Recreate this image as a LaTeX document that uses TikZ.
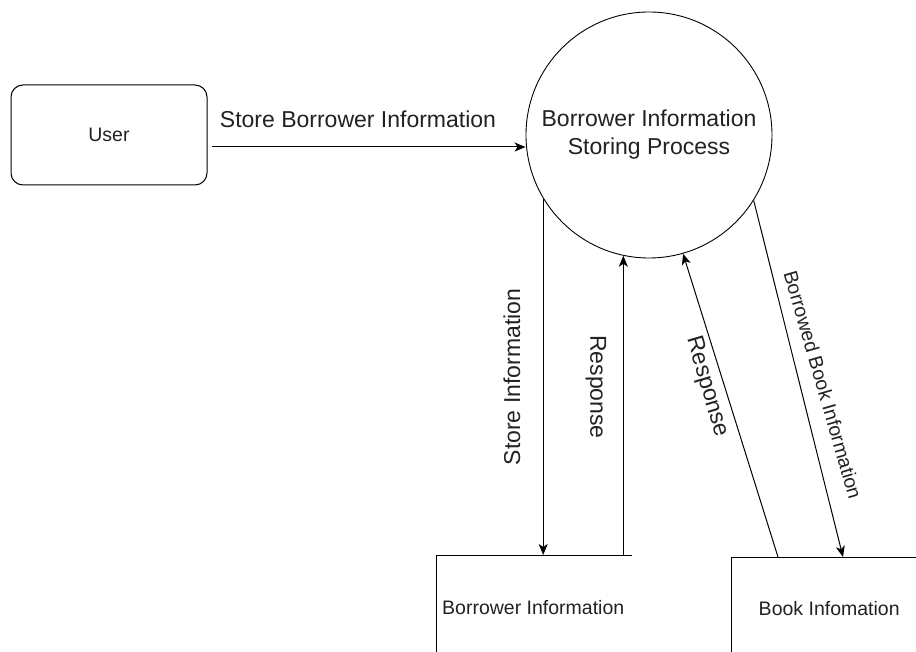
\documentclass[tikz,border=0pt]{standalone}
\usepackage{fontspec}
\setmainfont{Liberation Sans}
\usetikzlibrary{arrows.meta,calc}
\definecolor{txt}{HTML}{222222}
\tikzset{
  big/.style={font=\fontsize{23}{28}\selectfont, text=txt, inner sep=0pt},
  small/.style={font=\fontsize{19.5}{23}\selectfont, text=txt, inner sep=0pt},
  arr/.style={line width=1pt, -{Stealth[length=11pt,width=9pt,inset=3pt]}},
  plain/.style={line width=1pt},
  storebox/.style={minimum width=196pt, minimum height=104pt, anchor=north west, inner sep=0pt},
}
\begin{document}
\begin{tikzpicture}[x=1pt,y=-1pt]
\clip (0,0) rectangle (916,652);
\fill[white] (0,0) rectangle (916,652);

% User entity
\node[draw, line width=1pt, rounded corners=12pt, minimum width=196pt, minimum height=100pt, small, inner sep=0pt] (user) at (109,135) {User};

% Process circle
\node[draw, circle, line width=0.9pt, minimum size=246pt, inner sep=0pt, big, align=center] (circ) at (649,135) {Borrower Information\\Storing Process};

% Data stores
\node[storebox, small] (bstore) at (436,555) {\hspace*{-2pt}Borrower Information};
\node[storebox, minimum width=190pt, minimum height=102pt, small] (bbook) at (731,557) {\hspace*{6pt}Book Infomation};
\draw[plain] (bstore.south west) -- (bstore.north west) -- (bstore.north east);
\draw[plain] (bbook.south west) -- (bbook.north west) -- (bbook.north east);

% Connectors
\draw[arr] (user.east |- 0,147) ++(4,0) coordinate (ustart) -- (circ.west |- ustart) coordinate (uend);
\draw[arr] (circ.-149) -- (circ.-149 |- bstore.north);
\draw[arr] (circ.-102 |- bstore.north) -- (circ.-102);
\draw[arr] ($(bbook.north west)+(47,0)$) -- (circ.-74);
\draw[arr] (circ.-32) -- ($(bbook.north west)+(112,0)$);

% Labels
\node[big] (l1) at (358,119) {Store Borrower Information};
\node[big, rotate=90] (l2) at (512,377) {Store Information};
\node[big, rotate=-90] (l3) at (596,387) {Response};
\node[big, rotate=-73.5] (l4) at (707,387) {Response};
\node[small, rotate=-73.8] (l5) at (823,385) {Borrowed Book Information};
\end{tikzpicture}
\end{document}
